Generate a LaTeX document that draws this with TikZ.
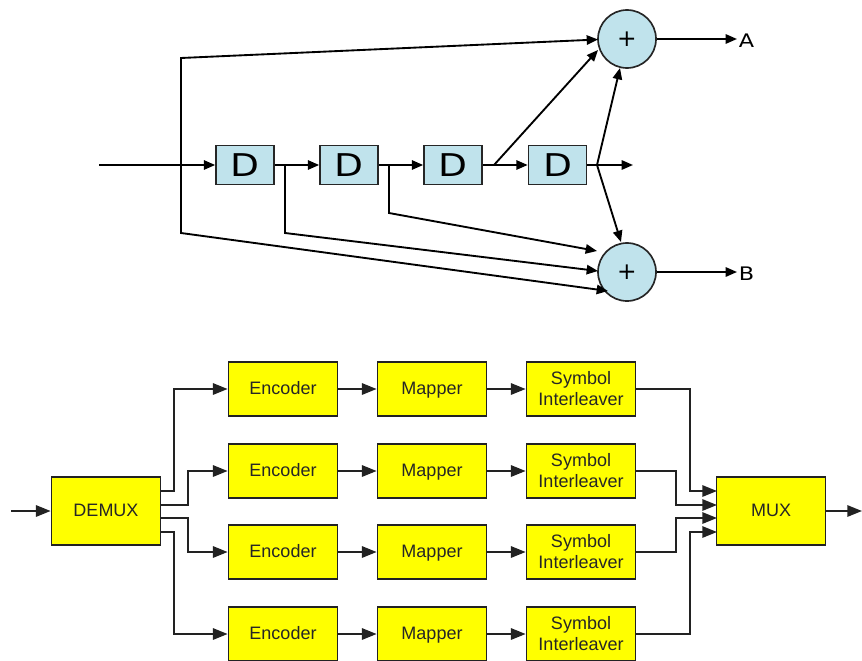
\documentclass[tikz,border=0pt]{standalone}
\usepackage{fontspec}
\setmainfont{Liberation Sans}
\newfontfamily\dvfont{DejaVu Sans}
\usetikzlibrary{arrows.meta}
\definecolor{lblue}{HTML}{C0E3EC}
\definecolor{lineg}{HTML}{222222}
\definecolor{yfill}{HTML}{FFFF00}
\tikzset{
  x=0.75pt,y=-0.75pt,
  dbox/.style={draw=black!85,line width=1.25pt,fill=lblue,minimum width=43.5pt,minimum height=29.25pt,inner sep=0pt,font=\dvfont\fontsize{23.5}{24}\selectfont},
  sumnode/.style={circle,draw=black!85,line width=1.25pt,fill=lblue,minimum size=43.5pt,inner sep=0pt,font=\dvfont\fontsize{17.5}{18}\selectfont},
  ybox/.style={draw=lineg,line width=1.3pt,fill=yfill,minimum width=81.75pt,minimum height=40pt,inner sep=0pt,align=center,text=black!85,font=\fontsize{13.5}{15.75}\selectfont},
  oneline/.style={text height=10pt,text depth=2.5pt},
  lbl/.style={inner sep=0pt,font=\dvfont\fontsize{14}{15}\selectfont},
  top/.style={draw=black,line width=1.4pt,-{Triangle[length=8.5pt,width=7pt]}},
  bot/.style={draw=lineg,line width=1.4pt,-{Triangle[length=11pt,width=8.5pt]}},
}
\begin{document}
\begin{tikzpicture}
\useasboundingbox (0,0) rectangle (862,660);
\clip (0,0) rectangle (862,660);
% --- top diagram
\node[dbox] (d1) at (245,165) {\scalebox{1.2}[1]{D}};
\node[dbox] (d2) at (349,165) {\scalebox{1.2}[1]{D}};
\node[dbox] (d3) at (453,165) {\scalebox{1.2}[1]{D}};
\node[dbox] (d4) at (557.5,165) {\scalebox{1.2}[1]{D}};
\node[sumnode] (pa) at (627,39) {+};
\node[sumnode] (pb) at (627,272) {+};
\node[lbl] (la) at (746.5,40.5) {\scalebox{1.2}[1]{A}};
\node[lbl] (lb) at (746.5,274) {\scalebox{1.2}[1]{B}};
\coordinate (in) at (99,165);
\coordinate (j0) at (181,165);
\coordinate (up) at (181,58);
\coordinate (dn) at (181,233);
\coordinate (j1) at (285,165);
\coordinate (j1d) at (285,233);
\coordinate (j2) at (389,165);
\coordinate (j2d) at (389,213);
\coordinate (j3) at (494,165);
\coordinate (j4) at (597,165);
\coordinate (open) at (633,165);
\coordinate (ta) at (598,39.5);
\coordinate (tb) at (598,50);
\coordinate (tc) at (620,68);
\coordinate (td) at (621,242);
\coordinate (te) at (597,251);
\coordinate (tf) at (598,271);
\coordinate (tg) at (608,291);
\coordinate (oa) at (737,39);
\coordinate (ob) at (737,272);
\draw[top] (in) -- (d1);
\draw[top] (d1) -- (d2);
\draw[top] (d2) -- (d3);
\draw[top] (d3) -- (d4);
\draw[top] (d4) -- (open);
\draw[top] (j0) -- (up) -- (ta);
\draw[top] (j0) -- (dn) -- (tg);
\draw[top] (j1) -- (j1d) -- (tf);
\draw[top] (j2) -- (j2d) -- (te);
\draw[top] (j3) -- (tb);
\draw[top] (j4) -- (tc);
\draw[top] (j4) -- (td);
\draw[top] (pa) -- (oa);
\draw[top] (pb) -- (ob);
% --- bottom diagram
\node[ybox,oneline,minimum height=51pt] (demux) at (106,511) {DEMUX};
\node[ybox,oneline,minimum height=51pt] (mux) at (771,511) {MUX};
\foreach \n/\y in {1/389,2/471,3/552,4/634}{
  \node[ybox,oneline] (e\n) at (283,\y) {Encoder};
  \node[ybox,oneline] (m\n) at (432,\y) {Mapper};
  \node[ybox] (s\n) at (581,\y) {Symbol\\Interleaver};
  \draw[bot] (e\n) -- (m\n);
  \draw[bot] (m\n) -- (s\n);
}
\coordinate (bin) at (11,511);
\coordinate (bout) at (862,511);
\coordinate (dp1) at (161,491);
\coordinate (dp2) at (161,505);
\coordinate (dp3) at (161,518);
\coordinate (dp4) at (161,532);
\coordinate (mp1) at (717,491);
\coordinate (mp2) at (717,505);
\coordinate (mp3) at (717,518);
\coordinate (mp4) at (717,532);
\draw[bot] (bin) -- (demux);
\draw[bot] (mux) -- (bout);
\draw[bot] (dp1) -| (174,389) -- (e1);
\draw[bot] (dp2) -| (188,471) -- (e2);
\draw[bot] (dp3) -| (188,552) -- (e3);
\draw[bot] (dp4) -| (174,634) -- (e4);
\draw[bot] (s1) -- (690,389) |- (mp1);
\draw[bot] (s2) -- (676,471) |- (mp2);
\draw[bot] (s3) -- (676,552) |- (mp3);
\draw[bot] (s4) -- (690,634) |- (mp4);
\end{tikzpicture}
\end{document}
